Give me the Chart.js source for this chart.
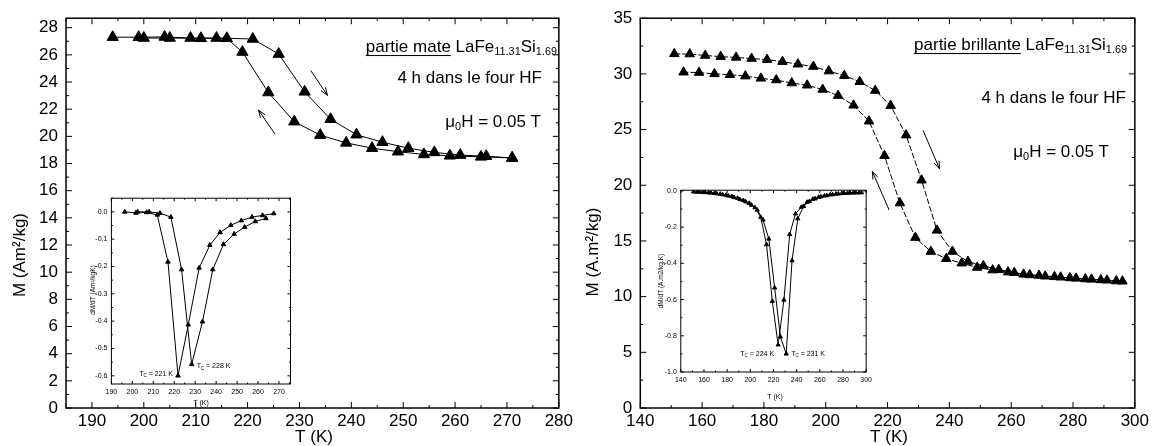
<!DOCTYPE html>
<html>
<head>
<meta charset="utf-8">
<script src="https://cdn.jsdelivr.net/npm/chart.js@4.4.0/dist/chart.umd.min.js"></script>
<style>
html, body { margin: 0; padding: 0; background: #fff; }
#wrap { position: relative; width: 1152px; height: 446px; overflow: hidden; background: #fff; }
canvas { position: absolute; }
</style>
</head>
<body>
<div id="wrap">
  <canvas id="mainL" width="576" height="446" style="left:0;top:0"></canvas>
  <canvas id="mainR" width="576" height="446" style="left:576px;top:0"></canvas>
  <canvas id="insetL" width="216" height="220" style="left:80px;top:190px"></canvas>
  <canvas id="insetR" width="226" height="222" style="left:650px;top:182px"></canvas>
</div>
<script>
const FONT = "'Liberation Sans', Arial, sans-serif";

// partie mate, M(T)
const mateHeatT = [194, 199, 204, 209, 214, 221, 226, 231, 236, 241, 246, 251, 256, 261, 266, 271];
const mateHeatM = [27.3, 27.3, 27.32, 27.24, 27.24, 27.17, 26.06, 23.28, 21.26, 20.12, 19.57, 19.13, 18.82, 18.62, 18.54, 18.41];
const mateCoolT = [271, 265, 259, 254, 249, 244, 239, 234, 229, 224, 219, 216, 211, 205, 200];
const mateCoolM = [18.41, 18.49, 18.57, 18.67, 18.87, 19.13, 19.52, 20.09, 21.08, 23.23, 26.21, 27.22, 27.22, 27.24, 27.24];
const mateXTicks = [190, 200, 210, 220, 230, 240, 250, 260, 270, 280];
const mateYTicks = [0, 2, 4, 6, 8, 10, 12, 14, 16, 18, 20, 22, 24, 26, 28];
const mateArrows = [[232.2, 24.84, 235.4, 23.02], [225.3, 20.17, 222.1, 21.93]];

// partie mate, dM/dT inset
const mateDerCoolT = [196.4, 201.7, 206.8, 211.9, 217.0, 221.8, 226.7, 231.9, 237.0, 241.9, 247.0, 252.0, 257.1, 262.2, 267.5];
const mateDerCoolV = [0.0, -0.004, -0.002, -0.011, -0.183, -0.60, -0.413, -0.205, -0.122, -0.075, -0.049, -0.032, -0.019, -0.013, -0.006];
const mateDerHeatT = [202.5, 208.0, 213.2, 218.4, 223.5, 228.3, 233.5, 238.4, 243.5, 248.6, 253.6, 258.7, 263.8];
const mateDerHeatV = [0.0, 0.0, -0.005, -0.019, -0.211, -0.558, -0.402, -0.211, -0.119, -0.081, -0.056, -0.035, -0.024];
const mateInsetXTicks = [190, 200, 210, 220, 230, 240, 250, 260, 270];
const mateInsetYTicks = [0, -0.1, -0.2, -0.3, -0.4, -0.5, -0.6];

// partie brillante, M(T)
const brilHeatT = [151, 156, 161, 166, 171, 176, 181, 186, 191, 196, 201, 206, 211, 216, 221, 226, 231, 236, 241, 246, 251, 256, 261, 266, 271, 276, 281, 286, 291, 296];
const brilHeatM = [31.8, 31.78, 31.65, 31.55, 31.48, 31.38, 31.28, 31.1, 30.87, 30.66, 30.25, 29.84, 29.3, 28.5, 27.15, 24.5, 20.45, 15.95, 14.05, 13.15, 12.77, 12.42, 12.15, 11.95, 11.83, 11.74, 11.64, 11.55, 11.47, 11.38];
const brilCoolT = [294, 289, 284, 279, 274, 269, 264, 259, 254, 249, 244, 239, 234, 229, 224, 219, 214, 209, 204, 199, 194, 189, 184, 179, 174, 169, 164, 159, 154];
const brilCoolM = [11.4, 11.5, 11.58, 11.68, 11.78, 11.9, 12.0, 12.2, 12.38, 12.62, 13.0, 13.4, 14.05, 15.3, 18.4, 22.65, 25.75, 27.18, 28.05, 28.6, 28.98, 29.18, 29.45, 29.6, 29.8, 29.92, 30.0, 30.12, 30.15];
const brilXTicks = [140, 160, 180, 200, 220, 240, 260, 280, 300];
const brilYTicks = [0, 5, 10, 15, 20, 25, 30, 35];
const brilArrows = [[231.5, 24.92, 236.8, 21.48], [220.5, 17.78, 215.1, 21.23]];

// partie brillante, dM/dT inset
const brilDerHeatT = [151, 156, 161, 166, 171, 176, 181, 186, 191, 196, 201, 206, 211, 216, 221, 226, 231, 236, 241, 246, 251, 256, 261, 266, 271, 276, 281, 286, 291, 296];
const brilDerHeatV = [-0.005, -0.006, -0.008, -0.011, -0.015, -0.02, -0.027, -0.036, -0.047, -0.06, -0.078, -0.105, -0.16, -0.265, -0.535, -0.806, -0.9, -0.385, -0.153, -0.085, -0.058, -0.043, -0.032, -0.025, -0.02, -0.016, -0.013, -0.011, -0.01, -0.009];
const brilDerCoolT = [154, 159, 164, 169, 174, 179, 184, 189, 194, 199, 204, 209, 214, 219, 224, 229, 234, 239, 244, 249, 254, 259, 264, 269, 274, 279, 284, 289, 294];
const brilDerCoolV = [-0.006, -0.008, -0.01, -0.013, -0.017, -0.023, -0.03, -0.04, -0.052, -0.068, -0.092, -0.145, -0.296, -0.609, -0.85, -0.602, -0.24, -0.126, -0.09, -0.062, -0.045, -0.034, -0.027, -0.021, -0.017, -0.014, -0.012, -0.011, -0.01];
const brilInsetXTicks = [140, 160, 180, 200, 220, 240, 260, 280, 300];
const brilInsetYTicks = [0, -0.2, -0.4, -0.6, -0.8, -1.0];

function pts(xs, ys) {
    return xs.map((x, i) => ({x: x, y: ys[i]}))
}

// box around the plot with inward ticks on all four sides
const frameTicks = {
    id: 'frameTicks',
    afterDraw(chart, args, o) {
        const ctx = chart.ctx, a = chart.chartArea
        const sx = chart.scales.x, sy = chart.scales.y
        ctx.save()
        ctx.strokeStyle = '#000'
        ctx.lineWidth = o.width
        ctx.strokeRect(a.left, a.top, a.right - a.left, a.bottom - a.top)
        ctx.lineWidth = o.tickWidth
        ctx.beginPath()
        const isMajor = (v, list) => list.some(t => Math.abs(t - v) < 1e-6)
        for (let v = Math.ceil(sx.min / o.xMinor - 1e-9) * o.xMinor; v <= sx.max + 1e-9; v += o.xMinor) {
            const p = sx.getPixelForValue(v), l = isMajor(v, o.xTicks) ? o.len : o.minorLen
            ctx.moveTo(p, a.bottom); ctx.lineTo(p, a.bottom - l)
            ctx.moveTo(p, a.top); ctx.lineTo(p, a.top + l)
        }
        for (let v = Math.ceil(sy.min / o.yMinor - 1e-9) * o.yMinor; v <= sy.max + 1e-9; v += o.yMinor) {
            const p = sy.getPixelForValue(v), l = isMajor(v, o.yTicks) ? o.len : o.minorLen
            ctx.moveTo(a.left, p); ctx.lineTo(a.left + l, p)
            ctx.moveTo(a.right, p); ctx.lineTo(a.right - l, p)
        }
        ctx.stroke()
        ctx.restore()
    }
};

function drawRich(ctx, segs, x, y, size, align, rot) {
    const sub = size * 0.64
    let w = 0
    segs.forEach(s => {
        ctx.font = (s.sub ? sub : size) + 'px ' + FONT
        s.w = ctx.measureText(s.t).width
        w += s.w
    })
    ctx.save()
    ctx.translate(x, y)
    if (rot) ctx.rotate(-Math.PI / 2)
    let cx = align === 'right' ? -w : (align === 'left' ? 0 : -w / 2)
    ctx.textBaseline = 'middle'
    ctx.textAlign = 'left'
    segs.forEach(s => {
        ctx.font = (s.sub ? sub : size) + 'px ' + FONT
        ctx.fillText(s.t, cx, s.sub ? size * 0.32 : 0)
        if (s.u) ctx.fillRect(cx, size * 0.47, s.w, Math.max(1, size / 16))
        cx += s.w
    })
    ctx.restore()
}

// free texts and arrows
const richText = {
    id: 'richText',
    afterDraw(chart, args, o) {
        const ctx = chart.ctx, sx = chart.scales.x, sy = chart.scales.y
        ctx.save()
        ctx.fillStyle = '#000'
        ctx.strokeStyle = '#000'
        ctx.lineWidth = 1
        ;(o.arrows || []).forEach(r => {
            const x1 = sx.getPixelForValue(r[0]), y1 = sy.getPixelForValue(r[1])
            const x2 = sx.getPixelForValue(r[2]), y2 = sy.getPixelForValue(r[3])
            const ang = Math.atan2(y2 - y1, x2 - x1), h = 8
            ctx.beginPath()
            ctx.moveTo(x1, y1); ctx.lineTo(x2, y2)
            ctx.moveTo(x2 - h * Math.cos(ang - 0.35), y2 - h * Math.sin(ang - 0.35))
            ctx.lineTo(x2, y2)
            ctx.lineTo(x2 - h * Math.cos(ang + 0.35), y2 - h * Math.sin(ang + 0.35))
            ctx.stroke()
        })
        ;(o.items || []).forEach(it => {
            let x = it.x, y = it.y
            if (it.dataX !== undefined) {
                x = sx.getPixelForValue(it.dataX) + (it.dx || 0)
                y = sy.getPixelForValue(it.dataY) + (it.dy || 0)
            }
            drawRich(ctx, it.segs, x, y, it.size, it.align || 'center', it.rot)
        })
        ctx.restore()
    }
};

function makeChart(id, c) {
    return new Chart(document.getElementById(id), {
        type: 'scatter',
        data: {
            datasets: c.series.map(s => ({
                data: pts(s[0], s[1]),
                showLine: true,
                borderColor: '#000',
                borderWidth: c.lineWidth,
                borderDash: c.dash || [],
                pointStyle: 'triangle',
                pointRadius: c.r,
                pointHoverRadius: c.r,
                pointBackgroundColor: '#000',
                pointBorderColor: '#000',
                pointBorderWidth: 1
            }))
        },
        options: {
            responsive: false,
            animation: false,
            devicePixelRatio: 1,
            layout: {padding: c.pad},
            plugins: {
                legend: {display: false},
                tooltip: {enabled: false},
                frameTicks: {width: c.frameW, tickWidth: 1, len: c.tickLen, minorLen: c.tickLen / 2,
                    xTicks: c.xTicks, yTicks: c.yTicks, xMinor: c.xMinor, yMinor: c.yMinor},
                richText: {items: c.texts, arrows: c.arrows}
            },
            scales: {
                x: {
                    type: 'linear', min: c.xMin, max: c.xMax,
                    grid: {display: false, drawTicks: false}, border: {display: false},
                    afterBuildTicks: s => { s.ticks = c.xTicks.map(v => ({value: v})) },
                    afterFit: s => { s.height = c.xH },
                    ticks: {font: {family: FONT, size: c.fs}, color: '#000', padding: c.xPad,
                        maxRotation: 0, autoSkip: false, callback: c.xFmt || (v => v)}
                },
                y: {
                    type: 'linear', min: c.yMin, max: c.yMax,
                    grid: {display: false, drawTicks: false}, border: {display: false},
                    afterBuildTicks: s => { s.ticks = c.yTicks.map(v => ({value: v})) },
                    afterFit: s => { s.width = c.yW },
                    ticks: {font: {family: FONT, size: c.fs}, color: '#000', padding: c.yPad,
                        autoSkip: false, callback: c.yFmt || (v => v)}
                }
            }
        },
        plugins: [frameTicks, richText]
    });
}

const tc = (n) => [{t: 'T'}, {t: 'C', sub: 1}, {t: ' = ' + n + ' K'}]

makeChart('mainL', {
    series: [[mateHeatT, mateHeatM], [mateCoolT, mateCoolM]],
    lineWidth: 1, r: 6.5,
    xMin: 185, xMax: 280, yMin: 0, yMax: 28.7,
    xTicks: mateXTicks, yTicks: mateYTicks, xMinor: 5, yMinor: 1,
    pad: {top: 12, right: 14, left: 0, bottom: 0}, xH: 38, yW: 66,
    fs: 17, xPad: 3, yPad: 8, frameW: 1.5, tickLen: 6,
    arrows: mateArrows,
    texts: [
        {segs: [{t: 'M (Am²/kg)'}], x: 20, y: 255, size: 17, rot: true},
        {segs: [{t: 'T (K)'}], x: 314, y: 437, size: 17},
        {segs: [{t: 'partie mate', u: 1}, {t: ' LaFe'}, {t: '11.31', sub: 1}, {t: 'Si'}, {t: '1.69', sub: 1}], x: 557, y: 47, size: 17, align: 'right'},
        {segs: [{t: '4 h dans le four HF'}], x: 542, y: 78, size: 17, align: 'right'},
        {segs: [{t: 'μ'}, {t: '0', sub: 1}, {t: 'H = 0.05 T'}], x: 541, y: 122, size: 17, align: 'right'}
    ]
});

makeChart('mainR', {
    series: [[brilHeatT, brilHeatM], [brilCoolT, brilCoolM]],
    lineWidth: 1, dash: [6, 2], r: 5.5,
    xMin: 140, xMax: 300, yMin: 0, yMax: 35,
    xTicks: brilXTicks, yTicks: brilYTicks, xMinor: 10, yMinor: 2.5,
    pad: {top: 12, right: 14.6, left: 0, bottom: 0}, xH: 38, yW: 64.3,
    fs: 17, xPad: 3, yPad: 8, frameW: 1.5, tickLen: 6,
    arrows: brilArrows,
    texts: [
        {segs: [{t: 'M (A.m²/kg)'}], x: 17, y: 252, size: 17, rot: true},
        {segs: [{t: 'T (K)'}], x: 313, y: 437, size: 17},
        {segs: [{t: 'partie brillante', u: 1}, {t: ' LaFe'}, {t: '11.31', sub: 1}, {t: 'Si'}, {t: '1.69', sub: 1}], x: 551, y: 45, size: 17, align: 'right'},
        {segs: [{t: '4 h dans le four HF'}], x: 550, y: 98, size: 17, align: 'right'},
        {segs: [{t: 'μ'}, {t: '0', sub: 1}, {t: 'H = 0.05 T'}], x: 533, y: 152, size: 17, align: 'right'}
    ]
});

makeChart('insetL', {
    series: [[mateDerCoolT, mateDerCoolV], [mateDerHeatT, mateDerHeatV]],
    lineWidth: 1, r: 2.6,
    xMin: 190, xMax: 275.5, yMin: -0.63, yMax: 0.05,
    xTicks: mateInsetXTicks, yTicks: mateInsetYTicks, xMinor: 5, yMinor: 0.05,
    pad: {top: 7, right: 5.5, left: 0, bottom: 0}, xH: 26, yW: 31.4,
    fs: 7, xPad: 4, yPad: 4, frameW: 1, tickLen: 3,
    xFmt: v => v, yFmt: v => v.toFixed(1),
    texts: [
        {segs: [{t: 'dM/dT (Am²/kgK)'}], x: 13, y: 100, size: 6.5, rot: true},
        {segs: [{t: 'T (K)'}], x: 121, y: 213, size: 7},
        {segs: tc(221), dataX: 221.8, dataY: -0.6, dx: -5, dy: -2, size: 7, align: 'right'},
        {segs: tc(228), dataX: 228.3, dataY: -0.558, dx: 5, dy: 2, size: 7, align: 'left'}
    ]
});

makeChart('insetR', {
    series: [[brilDerHeatT, brilDerHeatV], [brilDerCoolT, brilDerCoolV]],
    lineWidth: 1, r: 2.4,
    xMin: 140, xMax: 300, yMin: -1.0, yMax: 0.004,
    xTicks: brilInsetXTicks, yTicks: brilInsetYTicks, xMinor: 10, yMinor: 0.1,
    pad: {top: 8, right: 6, left: 0, bottom: 0}, xH: 32, yW: 30.8,
    fs: 7, xPad: 4, yPad: 4, frameW: 1, tickLen: 3,
    xFmt: v => v, yFmt: v => v.toFixed(1),
    texts: [
        {segs: [{t: 'dM/dT (A.m2/kg.K)'}], x: 11, y: 99, size: 6.5, rot: true},
        {segs: [{t: 'T (K)'}], x: 125, y: 215, size: 7},
        {segs: tc(224), dataX: 224, dataY: -0.85, dx: -4, dy: 9, size: 7, align: 'right'},
        {segs: tc(231), dataX: 231, dataY: -0.9, dx: 5, dy: 0, size: 7, align: 'left'}
    ]
});
</script>
</body>
</html>
